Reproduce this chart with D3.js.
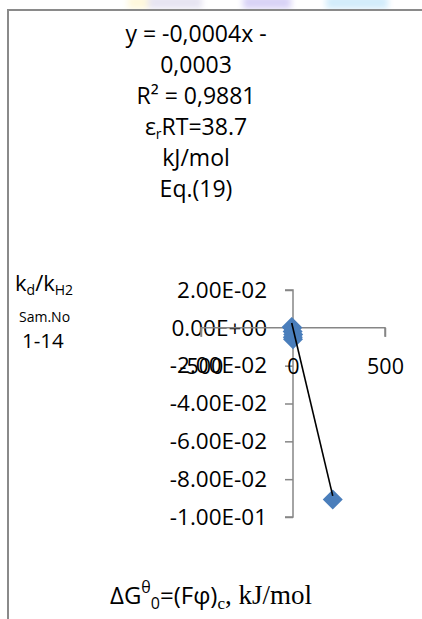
<!DOCTYPE html>
<html><head><meta charset="utf-8">
<script src="https://cdn.jsdelivr.net/npm/d3@7"></script>
<style>html,body{margin:0;padding:0;background:#fff;overflow:hidden}</style>
</head><body>
<script>
// ---- data ----
const xValues = [-7, -4, -2, 1, -1, 0, 216];
const yValues = [0.0005, 0.0000, -0.0020, -0.0035, -0.0050, -0.0060, -0.0907];
const trendSlope = -0.00041;
const trendIntercept = -0.0003;
const yTickValues = [0.02, 0, -0.02, -0.04, -0.06, -0.08, -0.1];
const yTickLabels = ["2.00E-02", "0.00E+00", "-2.00E-02", "-4.00E-02", "-6.00E-02", "-8.00E-02", "-1.00E-01"];
const xTickValues = [-500, 0, 500];
const xTickLabels = ["-500", "0", "500"];
const titleLines = ["y = -0,0004x -", "0,0003", "R² = 0,9881", "εrRT=38.7", "kJ/mol", "Eq.(19)"];

const W = 422, H = 619;
const sans = "'Open Sans', Lato, sans-serif";
const serif = "'Liberation Serif', 'DejaVu Serif', serif";
const svg = d3.select("body").append("svg").attr("width", W).attr("height", H);

// faint background strip at top
const defs = svg.append("defs");
defs.append("filter").attr("id", "blur").append("feGaussianBlur").attr("stdDeviation", 3);
const strip = [[128, 22, "#fff8dc"], [148, 54, "#e6e4f2"], [243, 48, "#d8d2f6"], [326, 62, "#d2ecfb"]];
svg.append("g").attr("filter", "url(#blur)").selectAll("rect").data(strip).join("rect")
  .attr("x", d => d[0]).attr("y", -4).attr("width", d => d[1]).attr("height", 13).attr("fill", d => d[2]);

// frame
svg.append("path").attr("d", `M8,${H} L8,10 L${W},10`).attr("fill", "none")
  .attr("stroke", "#8a8a8a").attr("stroke-width", 2);

// title block
const tl = svg.append("text").attr("font-family", sans).attr("font-size", 23).attr("fill", "#000").attr("text-anchor", "middle");
titleLines.forEach((s, i) => {
  const t = tl.append("tspan").attr("x", 196).attr("y", 41.5 + i * 31);
  if (s.startsWith("εr")) {
    t.append("tspan").text("ε");
    t.append("tspan").attr("font-size", 14).attr("dy", 4).text("r");
    t.append("tspan").attr("dy", -4).text(s.slice(2));
  } else t.text(s);
});

const x = d3.scaleLinear().domain([-500, 500]).range([201, 385]);
const y = d3.scaleLinear().domain([-0.1, 0.02]).range([517, 290]);
const axisColor = "#868686";

// y axis
const ya = svg.append("g").attr("transform", `translate(${x(0)},0)`)
  .call(d3.axisLeft(y).tickValues(yTickValues).tickFormat((d, i) => yTickLabels[i]).tickSize(8).tickPadding(18));
ya.select(".domain").attr("stroke", axisColor).attr("stroke-width", 1.5).attr("d", `M-8,${y(0.02)}H0V${y(-0.1)}H-8`);
ya.selectAll(".tick line").attr("stroke", axisColor).attr("stroke-width", 1.5);
ya.selectAll("text").attr("font-family", sans).attr("font-size", 22.5).attr("fill", "#000");

// x axis
const xa = svg.append("g").attr("transform", `translate(0,${y(0)})`)
  .call(d3.axisBottom(x).tickValues(xTickValues).tickFormat((d, i) => xTickLabels[i]).tickSize(9).tickPadding(22));
xa.select(".domain").attr("stroke", axisColor).attr("stroke-width", 1.5).attr("d", `M${x(-500)},9V0H${x(500)}V9`);
xa.selectAll(".tick line").attr("stroke", axisColor).attr("stroke-width", 1.5);
xa.selectAll("text").attr("font-family", sans).attr("font-size", 21.5).attr("fill", "#000");

// markers
const pts = xValues.map((v, i) => [v, yValues[i]]);
svg.append("g").selectAll("path").data(pts).join("path")
  .attr("d", d3.symbol().type(d3.symbolSquare).size(200))
  .attr("transform", d => `translate(${x(d[0])},${y(d[1])}) rotate(45)`)
  .attr("fill", "#4a7ebb");

// trendline
const xmin = d3.min(xValues), xmax = d3.max(xValues);
svg.append("line")
  .attr("x1", x(xmin)).attr("y1", y(trendSlope * xmin + trendIntercept))
  .attr("x2", x(xmax)).attr("y2", y(trendSlope * xmax + trendIntercept))
  .attr("stroke", "#000").attr("stroke-width", 1.6);

// left labels
const kl = svg.append("text").attr("font-family", sans).attr("font-size", 22).attr("x", 15).attr("y", 290.5);
kl.append("tspan").text("k");
kl.append("tspan").attr("font-size", 14).attr("dy", 4).text("d");
kl.append("tspan").attr("dy", -4).text("/k");
kl.append("tspan").attr("font-size", 14).attr("dy", 4).text("H2");
svg.append("text").attr("font-family", sans).attr("font-size", 14).attr("x", 19).attr("y", 322).text("Sam.No");
svg.append("text").attr("font-family", sans).attr("font-size", 20.5).attr("x", 22).attr("y", 348).text("1-14");

// bottom axis title
const bt = svg.append("text").attr("font-family", sans).attr("font-size", 24).attr("x", 110).attr("y", 604);
bt.append("tspan").text("ΔG");
bt.append("tspan").attr("font-size", 16).attr("dy", -11).text("θ");
bt.append("tspan").attr("font-size", 16).attr("dy", 16).text("0");
bt.append("tspan").attr("dy", -5).text("=(Fφ)");
bt.append("tspan").attr("font-family", serif).attr("font-size", 17).attr("dy", 5).text("c");
bt.append("tspan").attr("font-family", serif).attr("font-size", 27).attr("dy", -5).text(", kJ/mol");
</script>
</body></html>
